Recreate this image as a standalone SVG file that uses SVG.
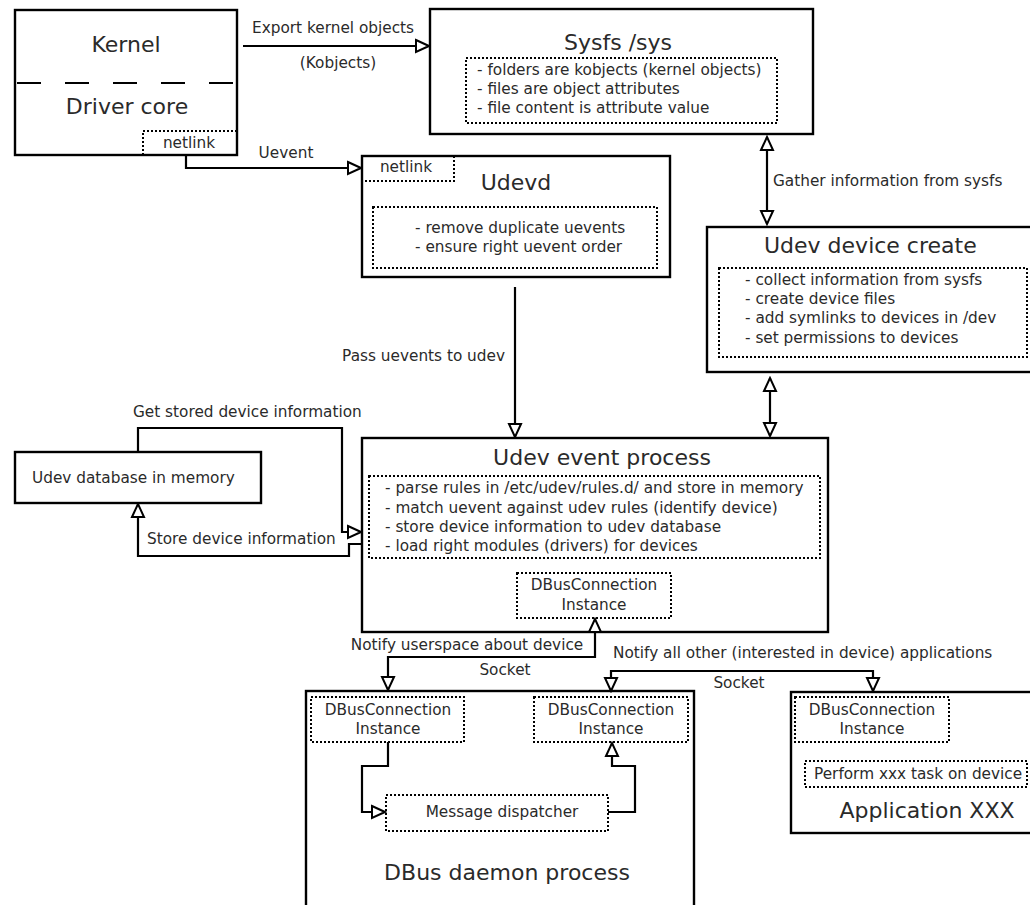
<svg xmlns="http://www.w3.org/2000/svg" width="1030" height="905" viewBox="0 0 1030 905">
  <style>
    text { font-family: "DejaVu Sans", "Liberation Sans", sans-serif; fill: #2a2a2a; }
    .title { font-size: 22px; }
    .small { font-size: 15.3px; }
    .mid { text-anchor: middle; }
    .end { text-anchor: end; }
    .box { fill: #fff; stroke: #000; stroke-width: 2.4; }
    .dot { fill: none; stroke: #000; stroke-width: 2; stroke-dasharray: 2 2; }
    .wire { fill: none; stroke: #000; stroke-width: 2.2; }
  </style>
  <defs>
    <marker id="ah" viewBox="-2 -2 17 16" refX="13" refY="6" markerWidth="17" markerHeight="16" markerUnits="userSpaceOnUse" orient="auto-start-reverse">
      <path d="M0,0 L13,6 L0,12 z" fill="#fff" stroke="#000" stroke-width="2"/>
    </marker>
  </defs>
  <rect width="1030" height="905" fill="#fff"/>

  <!-- Kernel / driver core -->
  <g id="kernel">
    <rect class="box" x="15" y="10" width="222" height="145"/>
    <line x1="16" y1="83" x2="236" y2="83" stroke="#000" stroke-width="2" stroke-dasharray="24 24" stroke-dashoffset="-1"/>
    <text class="title mid" x="126" y="52">Kernel</text>
    <text class="title mid" x="127" y="114">Driver core</text>
    <rect class="dot" x="143" y="131" width="94" height="24"/>
    <text class="small mid" x="189" y="148">netlink</text>
  </g>

  <!-- Sysfs -->
  <g id="sysfs">
    <rect class="box" x="430" y="9" width="383" height="125"/>
    <text class="title mid" x="618" y="50">Sysfs /sys</text>
    <rect class="dot" x="466" y="58" width="311" height="65"/>
    <text class="small" x="477" y="75">- folders are kobjects (kernel objects)</text>
    <text class="small" x="477" y="94">- files are object attributes</text>
    <text class="small" x="477" y="113">- file content is attribute value</text>
  </g>

  <!-- Udevd -->
  <g id="udevd">
    <rect class="box" x="362" y="156" width="308" height="121"/>
    <rect class="dot" x="362" y="156" width="92" height="25"/>
    <text class="small mid" x="406" y="172">netlink</text>
    <text class="title mid" x="516" y="190">Udevd</text>
    <rect class="dot" x="373" y="207" width="284" height="61"/>
    <text class="small" x="415" y="233">- remove duplicate uevents</text>
    <text class="small" x="415" y="252">- ensure right uevent order</text>
  </g>

  <!-- Udev device create -->
  <g id="device-create">
    <rect class="box" x="707" y="227" width="340" height="145"/>
    <text class="title" x="764" y="253">Udev device create</text>
    <rect class="dot" x="719" y="268" width="308" height="89"/>
    <text class="small" x="745" y="285">- collect information from sysfs</text>
    <text class="small" x="745" y="304">- create device files</text>
    <text class="small" x="745" y="323">- add symlinks to  devices in /dev</text>
    <text class="small" x="745" y="343">- set permissions to devices</text>
  </g>

  <!-- Udev database -->
  <g id="udev-db">
    <rect class="box" x="15" y="452" width="246" height="51"/>
    <text class="small" x="32" y="483">Udev database in memory</text>
  </g>

  <!-- Udev event process -->
  <g id="event-process">
    <rect class="box" x="362" y="438" width="466" height="194"/>
    <text class="title mid" x="602" y="465">Udev event process</text>
    <rect class="dot" x="369" y="476" width="451" height="82"/>
    <text class="small" x="385" y="493">- parse rules in /etc/udev/rules.d/ and store in memory</text>
    <text class="small" x="385" y="513">- match uevent against udev rules (identify device)</text>
    <text class="small" x="385" y="532">- store device information to udev database</text>
    <text class="small" x="385" y="551">- load right modules (drivers) for devices</text>
    <rect class="dot" x="517" y="573" width="154" height="45"/>
    <text class="small mid" x="594" y="590">DBusConnection</text>
    <text class="small mid" x="594" y="610">Instance</text>
  </g>

  <!-- DBus daemon -->
  <g id="dbus-daemon">
    <rect class="box" x="306" y="691" width="388" height="230"/>
    <rect class="dot" x="311" y="697" width="153" height="45"/>
    <text class="small mid" x="388" y="715">DBusConnection</text>
    <text class="small mid" x="388" y="734">Instance</text>
    <rect class="dot" x="534" y="697" width="154" height="45"/>
    <text class="small mid" x="611" y="715">DBusConnection</text>
    <text class="small mid" x="611" y="734">Instance</text>
    <rect class="dot" x="386" y="795" width="222" height="36"/>
    <text class="small mid" x="502" y="817">Message dispatcher</text>
    <text class="title mid" x="507" y="880">DBus daemon process</text>
  </g>

  <!-- Application -->
  <g id="application">
    <rect class="box" x="791" y="692" width="250" height="141"/>
    <rect class="dot" x="795" y="697" width="154" height="45"/>
    <text class="small mid" x="872" y="715">DBusConnection</text>
    <text class="small mid" x="872" y="734">Instance</text>
    <rect class="dot" x="805" y="761" width="222" height="26"/>
    <text class="small" x="814" y="779">Perform xxx task on device</text>
    <text class="title mid" x="927" y="818">Application XXX</text>
  </g>

  <!-- Connectors -->
  <g id="connectors">
    <path class="wire" d="M243,46 H429" marker-end="url(#ah)"/>
    <path class="wire" d="M186,155 V168 H361" marker-end="url(#ah)"/>
    <path class="wire" d="M767,137 V224" marker-start="url(#ah)" marker-end="url(#ah)"/>
    <path class="wire" d="M515,287 V437" marker-end="url(#ah)"/>
    <path class="wire" d="M770,378 V436" marker-start="url(#ah)" marker-end="url(#ah)"/>
    <path class="wire" d="M138,452 V428 H342 V532 H361" marker-end="url(#ah)"/>
    <path class="wire" d="M361,544 H349 V556 H138 V504" marker-end="url(#ah)"/>
    <path class="wire" d="M595,619 V657 H388 V690" marker-start="url(#ah)" marker-end="url(#ah)"/>
    <path class="wire" d="M611,691 V671 H873 V691" marker-start="url(#ah)" marker-end="url(#ah)"/>
    <path class="wire" d="M388,742 V766 H362 V812 H385" marker-end="url(#ah)"/>
    <path class="wire" d="M608,812 H635 V766 H612 V743" marker-end="url(#ah)"/>

    <text class="small" x="252" y="33">Export kernel objects</text>
    <text class="small mid" x="338" y="68">(Kobjects)</text>
    <text class="small mid" x="286" y="158">Uevent</text>
    <text class="small" x="773" y="186">Gather information from sysfs</text>
    <text class="small end" x="505" y="361">Pass uevents to udev</text>
    <text class="small" x="133" y="417">Get stored device information</text>
    <text class="small" x="147" y="544">Store device information</text>
    <text class="small mid" x="467" y="650">Notify userspace about device</text>
    <text class="small mid" x="505" y="675">Socket</text>
    <text class="small" x="613" y="658">Notify all other (interested in device) applications</text>
    <text class="small mid" x="739" y="688">Socket</text>
  </g>
</svg>
